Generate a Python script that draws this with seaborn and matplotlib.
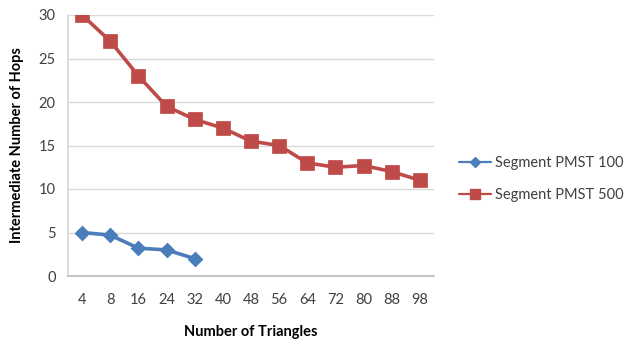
import matplotlib
matplotlib.use("Agg")
import matplotlib.pyplot as plt
from matplotlib.lines import Line2D
import seaborn as sns
import pandas as pd

# Triangle counts on the x axis
triangles = ["4", "8", "16", "24", "32", "40", "48", "56", "64", "72", "80", "88", "98"]

# Intermediate hop counts per series
pmst_100 = [5.0, 4.7, 3.2, 3.0, 2.0]
pmst_500 = [30.0, 27.0, 23.0, 19.5, 18.0, 17.0, 15.5, 15.0, 13.0, 12.5, 12.7, 12.0, 11.0]

series_names = ["Segment PMST 100", "Segment PMST 500"]

df = pd.concat([
    pd.DataFrame({"triangles": triangles[:len(pmst_100)], "hops": pmst_100, "series": series_names[0]}),
    pd.DataFrame({"triangles": triangles, "hops": pmst_500, "series": series_names[1]}),
])

sns.set_theme(style="white")
plt.rcParams["font.family"] = ["Lato", "DejaVu Sans"]

fig = plt.figure(figsize=(6.24, 3.41), dpi=100)
ax = fig.add_axes([68 / 624, 1 - 276 / 341, (434 - 68) / 624, (276 - 15) / 341])

colors = {"Segment PMST 100": "#4A7EBB", "Segment PMST 500": "#BE4B48"}
markers = {"Segment PMST 100": "D", "Segment PMST 500": "s"}
sns.pointplot(data=df, x="triangles", y="hops", hue="series", order=triangles,
              hue_order=series_names, palette=colors, markers=["D", "s"],
              linestyles=["-", "-"], dodge=False, errorbar=None,
              markersize=7, linewidth=2.6, ax=ax, legend=False)

# squares are drawn larger than diamonds
for line in ax.lines:
    if line.get_marker() == "s":
        line.set_markersize(8)
    elif line.get_marker() == "D":
        line.set_markersize(6)

ax.set_ylim(0, 30)
ax.set_xlim(-0.5, len(triangles) - 0.5)
ax.set_yticks([0, 5, 10, 15, 20, 25, 30])
ax.yaxis.grid(True, color="#D9D9D9", linewidth=1)
ax.set_axisbelow(True)
for side in ["top", "right"]:
    ax.spines[side].set_visible(False)
ax.spines["left"].set_color("#D9D9D9")
ax.spines["bottom"].set_color("#BFBFBF")
ax.tick_params(axis="both", length=0, labelsize=10.5, colors="#404040", pad=9)
ax.tick_params(axis="x", pad=12)

ax.set_xlabel("Number of Triangles", fontsize=10.5, fontweight="bold", color="black", labelpad=13)
ax.set_ylabel("Intermediate Number of Hops", fontsize=10.5, fontweight="bold", color="black", labelpad=10)

handles = [
    Line2D([], [], color=colors[name], marker=markers[name], linewidth=1.6,
           markersize=5 if markers[name] == "D" else 7)
    for name in series_names
]
fig.legend(handles, series_names, loc="center left", bbox_to_anchor=(459 / 624, 1 - 179 / 341),
           frameon=False, fontsize=10.5, handlelength=2.2, labelspacing=1.2,
           handletextpad=0.3, labelcolor="#404040", borderaxespad=0, borderpad=0)

fig.savefig("out.png", dpi=100)
